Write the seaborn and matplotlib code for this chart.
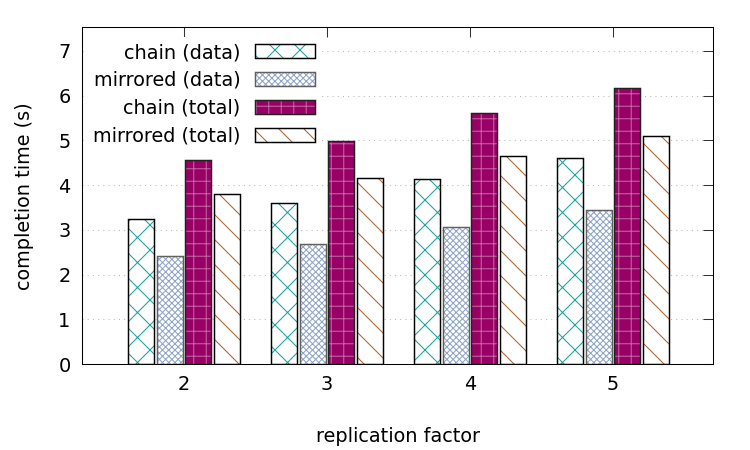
import matplotlib
matplotlib.use('Agg')
import matplotlib.pyplot as plt
import numpy as np
import pandas as pd
import seaborn as sns
from matplotlib.patches import Rectangle

# Data
factors = ['2', '3', '4', '5']
series = ['chain (data)', 'mirrored (data)', 'chain (total)', 'mirrored (total)']
chain_data = [3.25, 3.59, 4.13, 4.60]
mirrored_data = [2.41, 2.68, 3.07, 3.45]
chain_total = [4.57, 4.98, 5.61, 6.16]
mirrored_total = [3.79, 4.16, 4.65, 5.10]

df = pd.DataFrame({
    'replication factor': factors * 4,
    'completion time (s)': chain_data + mirrored_data + chain_total + mirrored_total,
    'series': np.repeat(series, len(factors)),
})

# styling per series: face, hatch, hatch colour, outline colour
faces = {'chain (data)': 'white', 'mirrored (data)': 'white',
         'chain (total)': '#990066', 'mirrored (total)': 'white'}
hatches = {'chain (data)': 'x', 'mirrored (data)': 'xxxx',
           'chain (total)': '+', 'mirrored (total)': '\\'}
hatch_colors = {'chain (data)': '#1aa39e', 'mirrored (data)': '#8fa5c8',
                'chain (total)': (1, 1, 1, 0.4), 'mirrored (total)': '#b4612e'}
outlines = {'chain (data)': 'black', 'mirrored (data)': '#606060',
            'chain (total)': '#222222', 'mirrored (total)': 'black'}

sns.set_style('white')
plt.rcParams['font.family'] = ['DejaVu Sans']
plt.rcParams['hatch.linewidth'] = 1.0
for k in ['text.color', 'axes.labelcolor', 'xtick.color', 'ytick.color']:
    plt.rcParams[k] = 'black'

FS = 18.5
DPI = 75
fig = plt.figure(figsize=(10, 6), dpi=DPI)
ax = fig.add_axes([0.1093, 0.1911, 0.8414, 0.7478])

sns.barplot(data=df, x='replication factor', y='completion time (s)', hue='series',
            hue_order=series, palette=faces, width=0.8, gap=0.09, saturation=1,
            ax=ax, legend=False)

handles = []
for cont, name in zip(ax.containers, series):
    for bar in cont:
        bar.set_hatch(hatches[name])
        bar.set_edgecolor(hatch_colors[name])
        bar.set_linewidth(0)
        ax.add_patch(Rectangle(bar.get_xy(), bar.get_width(), bar.get_height(),
                               fill=False, edgecolor=outlines[name], lw=1.4, zorder=2))
    handles.append(Rectangle((0, 0), 1, 1, facecolor=faces[name], hatch=hatches[name],
                             edgecolor=hatch_colors[name], lw=0, label=name))

ax.set_ylim(0, 7.52)
ax.set_xlim(-0.713, 3.699)
ax.set_yticks(range(8))
ax.set_axisbelow(True)
ax.yaxis.grid(True, linestyle=(0, (1, 4)), color='#b8b8b8', lw=1.0)
ax.xaxis.grid(False)

for s in ax.spines.values():
    s.set_color('black')
    s.set_linewidth(1.0)

ax.tick_params(axis='both', direction='in', length=9.3, width=1, color='#333333',
               labelsize=FS, top=True, right=True, pad=11)
ax.set_xlabel('replication factor', fontsize=FS, labelpad=31)
ax.set_ylabel('completion time (s)', fontsize=FS, labelpad=23)

# legend with the sample right of the text, opaque white box, no border
leg = ax.legend(handles=handles, loc='upper right', bbox_to_anchor=(0.378, 0.971),
                markerfirst=False, frameon=True, fancybox=False, framealpha=1,
                edgecolor='none', facecolor='white', fontsize=FS,
                handlelength=3.1, handleheight=0.72, handletextpad=0.75,
                labelspacing=0.46, borderpad=0.3, borderaxespad=0)
leg.set_zorder(5)

# outlines round the legend samples
fig.canvas.draw()
inv = fig.transFigure.inverted()
for h, name in zip(leg.get_patches(), series):
    bb = h.get_window_extent()
    (x0, y0), (x1, y1) = inv.transform([[bb.x0, bb.y0], [bb.x1, bb.y1]])
    fig.add_artist(Rectangle((x0, y0), x1 - x0, y1 - y0, fill=False,
                             edgecolor=outlines[name], lw=1.4, transform=fig.transFigure,
                             zorder=6))

fig.savefig('out.png', dpi=DPI)
